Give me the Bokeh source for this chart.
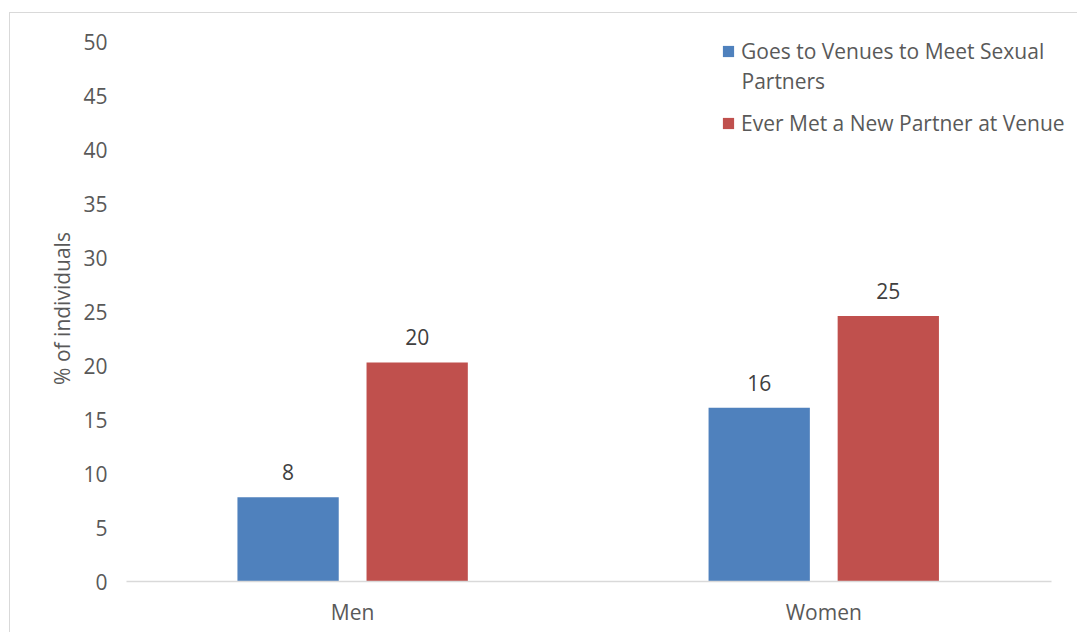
from bokeh.plotting import figure
from bokeh.models import (ColumnDataSource, Range1d, FixedTicker, Legend, LegendItem, Label)
from bokeh.transform import dodge
from bokeh.core.properties import value
from bokeh.embed import file_html
from bokeh.resources import INLINE

categories = ["Men", "Women"]
goes_to_venues = [7.8, 16.1]
met_new_partner = [20.3, 24.6]
goes_labels = ["8", "16"]
met_labels = ["20", "25"]
y_ticks = [0, 5, 10, 15, 20, 25, 30, 35, 40, 45, 50]

FONT = "Open Sans"
FS = "21px"
BLUE = "#4F81BD"
RED = "#C0504D"

src = ColumnDataSource(dict(
    x=list(range(len(categories))),
    goes=goes_to_venues,
    met=met_new_partner,
    goes_lbl=goes_labels,
    met_lbl=met_labels,
))

p = figure(width=1068, height=620, output_backend="svg", toolbar_location=None,
           x_range=Range1d(-0.48, 1.528), y_range=Range1d(0, 50.6),
           min_border_left=116, min_border_right=6, min_border_top=22, min_border_bottom=52)
p.styles = {"border-top": "1px solid #d9d9d9", "border-left": "1px solid #d9d9d9",
            "margin-top": "12px", "margin-left": "9px"}
p.outline_line_color = None
p.xgrid.visible = False
p.ygrid.visible = False

r1 = p.vbar(x=dodge("x", -0.137, range=p.x_range), top="goes", width=0.215, source=src,
            fill_color=BLUE, line_color=None)
r2 = p.vbar(x=dodge("x", 0.137, range=p.x_range), top="met", width=0.215, source=src,
            fill_color=RED, line_color=None)

for col, lbl, off in [("goes", "goes_lbl", -0.137), ("met", "met_lbl", 0.137)]:
    p.text(x=dodge("x", off, range=p.x_range), y=col, text=lbl, source=src,
           text_align="center", text_baseline="middle", y_offset=-25,
           text_font=value(FONT), text_font_size=FS, text_color="#404040")

# axes
p.xaxis.ticker = FixedTicker(ticks=list(range(len(categories))))
p.xaxis.bounds = (-0.48, 1.483)
p.xaxis.major_label_overrides = {i: c for i, c in enumerate(categories)}
p.xaxis.axis_line_color = "#d9d9d9"
p.xaxis.axis_line_width = 1.5
p.xaxis.major_tick_line_color = None
p.xaxis.minor_tick_line_color = None
p.xaxis.major_label_standoff = 10
p.xaxis.major_label_text_font = FONT
p.xaxis.major_label_text_font_size = FS
p.xaxis.major_label_text_color = "#595959"

p.yaxis.ticker = FixedTicker(ticks=y_ticks)
p.yaxis.axis_line_color = None
p.yaxis.major_tick_line_color = None
p.yaxis.minor_tick_line_color = None
p.yaxis.major_label_standoff = 13
p.yaxis.major_label_text_font = FONT
p.yaxis.major_label_text_font_size = FS
p.yaxis.major_label_text_color = "#595959"
p.yaxis.axis_label = "% of individuals"
p.yaxis.axis_label_text_font = FONT
p.yaxis.axis_label_text_font_size = FS
p.yaxis.axis_label_text_font_style = "normal"
p.yaxis.axis_label_text_color = "#595959"
p.yaxis.axis_label_standoff = 4

def make_legend(item, loc):
    lg = Legend(items=[item], location=loc, orientation="vertical",
                border_line_color=None, background_fill_alpha=0,
                padding=0, margin=0, label_standoff=6,
                glyph_width=14, glyph_height=14,
                label_text_font=FONT, label_text_font_size=FS,
                label_text_color="#595959")
    return lg

p.add_layout(make_legend(LegendItem(label="Goes to Venues to Meet Sexual", renderers=[r1]), (595, 516)))
p.add_layout(make_legend(LegendItem(label="Ever Met a New Partner at Venue", renderers=[r2]), (595, 444)))
p.add_layout(Label(x=615, y=501, x_units="screen", y_units="screen", text="Partners",
                   text_baseline="middle", text_font=FONT, text_font_size=FS,
                   text_color="#595959"))

open("out.html", "w").write(file_html(p, INLINE))
